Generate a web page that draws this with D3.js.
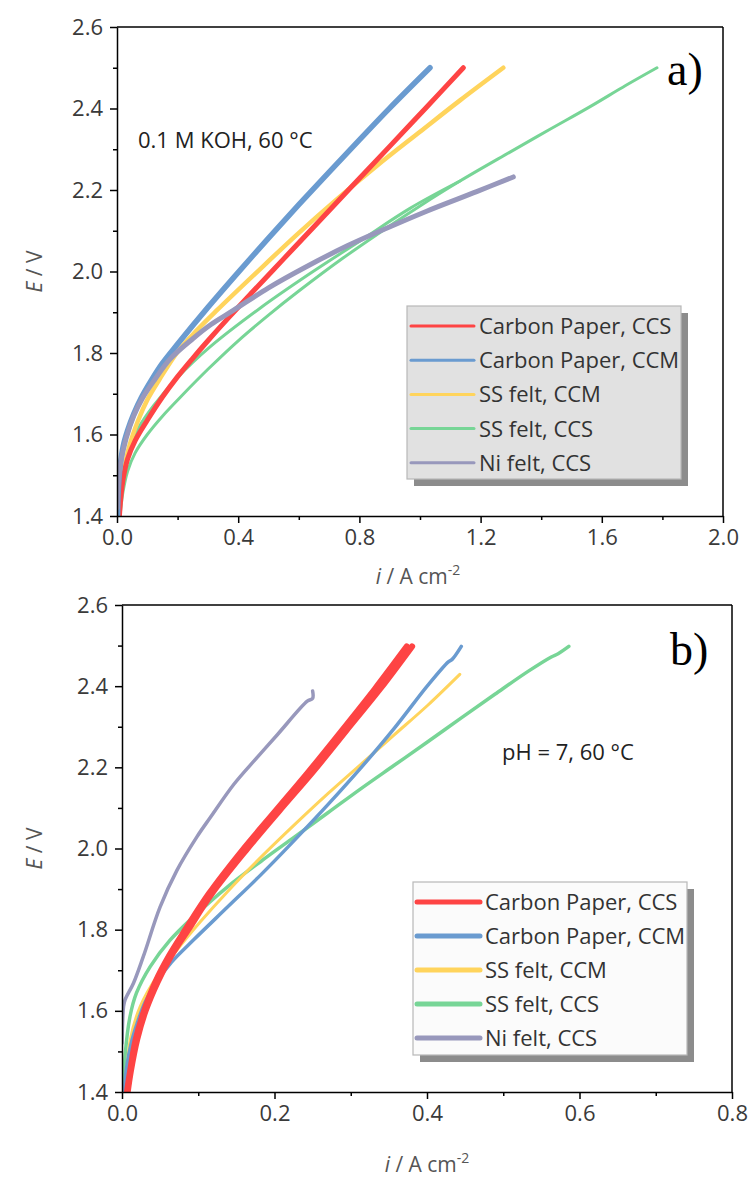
<!DOCTYPE html>
<html>
<head>
<meta charset="utf-8">
<script src="https://cdn.jsdelivr.net/npm/d3@7"></script>
<style>
  body { margin: 0; background: #fff; }
  svg { display: block; }
  text { font-family: "Open Sans", "Noto Sans", sans-serif; }
</style>
</head>
<body>
<svg id="chart" width="748" height="1180"></svg>
<script>
// ---- legend entries & colours ----
const seriesNames = ["Carbon Paper, CCS", "Carbon Paper, CCM", "SS felt, CCM", "SS felt, CCS", "Ni felt, CCS"];
const seriesColors = ["#fe4444", "#6a9bd0", "#ffd45c", "#77d596", "#9898bc"];

// ---- axis ticks ----
const yMajorTicks = [1.4, 1.6, 1.8, 2.0, 2.2, 2.4, 2.6];
const yMinorTicks = [1.5, 1.7, 1.9, 2.1, 2.3, 2.5];
const xMajorTicksA = [0.0, 0.4, 0.8, 1.2, 1.6, 2.0];
const xMinorTicksA = [0.2, 0.6, 1.0, 1.4, 1.8];
const xMajorTicksB = [0.0, 0.2, 0.4, 0.6, 0.8];
const xMinorTicksB = [0.1, 0.3, 0.5, 0.7];

// ---- panel a: 0.1 M KOH, 60 °C  (i / A cm-2, E / V) ----
const kohCarbonPaperCCS = [[0.008,1.40],[0.012,1.44],[0.02,1.49],[0.035,1.54],[0.06,1.585],[0.1,1.635],[0.15,1.692],[0.2,1.742],[0.25,1.787],[0.3,1.83],[0.37,1.888],[0.45,1.952],[0.55,2.031],[0.65,2.11],[0.77,2.205],[0.9,2.307],[1.02,2.402],[1.143,2.5]];
const kohCarbonPaperCCM = [[0.002,1.40],[0.004,1.46],[0.01,1.52],[0.02,1.57],[0.035,1.61],[0.055,1.65],[0.08,1.69],[0.115,1.735],[0.15,1.775],[0.2,1.822],[0.3,1.912],[0.4,1.998],[0.5,2.082],[0.6,2.164],[0.7,2.244],[0.8,2.323],[0.9,2.401],[1.033,2.5]];
const kohSSfeltCCM = [[0.006,1.40],[0.01,1.45],[0.02,1.5],[0.04,1.57],[0.07,1.635],[0.1,1.685],[0.14,1.735],[0.2,1.803],[0.26,1.853],[0.33,1.905],[0.461,1.998],[0.593,2.09],[0.725,2.177],[0.857,2.259],[1.0,2.343],[1.132,2.42],[1.275,2.5]];
const kohSSfeltCCSForward = [[0.01,1.40],[0.02,1.46],[0.035,1.51],[0.06,1.555],[0.1,1.6],[0.15,1.645],[0.22,1.70],[0.3,1.76],[0.4,1.83],[0.5,1.893],[0.6,1.952],[0.746,2.033],[0.912,2.118],[1.0,2.161],[1.132,2.222],[1.297,2.293],[1.429,2.349],[1.56,2.404],[1.68,2.457],[1.782,2.5]];
const kohSSfeltCCSBackward = [[1.132,2.222],[0.967,2.155],[0.802,2.075],[0.637,1.995],[0.472,1.91],[0.307,1.815],[0.2,1.74],[0.12,1.67],[0.07,1.615],[0.04,1.565],[0.02,1.5],[0.01,1.44],[0.006,1.40]];
const kohNiFeltCCS = [[0.0,1.42],[0.003,1.47],[0.012,1.53],[0.03,1.59],[0.055,1.645],[0.085,1.69],[0.125,1.735],[0.175,1.785],[0.25,1.835],[0.31,1.87],[0.385,1.905],[0.5,1.96],[0.62,2.01],[0.76,2.063],[0.88,2.103],[1.022,2.148],[1.187,2.196],[1.308,2.232]];

// ---- panel b: pH = 7, 60 °C ----
const neutralCarbonPaperCCSForward = [[0.0075,1.40],[0.0115,1.45],[0.02,1.53],[0.031,1.6],[0.0465,1.67],[0.0645,1.735],[0.087,1.8],[0.118,1.889],[0.1625,1.995],[0.2065,2.093],[0.251,2.19],[0.294,2.29],[0.3385,2.393],[0.3805,2.498]];
const neutralCarbonPaperCCSBackward = [[0.0065,1.40],[0.0105,1.45],[0.018,1.53],[0.029,1.6],[0.0435,1.67],[0.0615,1.735],[0.083,1.8],[0.114,1.889],[0.1575,1.995],[0.2015,2.093],[0.245,2.19],[0.288,2.29],[0.3315,2.393],[0.3735,2.498]];
const neutralCarbonPaperCCM = [[0.003,1.40],[0.006,1.46],[0.012,1.52],[0.02,1.57],[0.03,1.62],[0.045,1.67],[0.065,1.72],[0.094,1.775],[0.138,1.855],[0.182,1.935],[0.226,2.02],[0.27,2.108],[0.313,2.198],[0.357,2.296],[0.401,2.402],[0.428,2.46],[0.433,2.466],[0.445,2.498]];
const neutralSSfeltCCM = [[0.005,1.40],[0.011,1.53],[0.024,1.611],[0.046,1.685],[0.072,1.75],[0.103,1.82],[0.138,1.893],[0.182,1.978],[0.226,2.058],[0.27,2.135],[0.318,2.215],[0.357,2.28],[0.401,2.353],[0.443,2.429]];
const neutralSSfeltCCS = [[0.002,1.40],[0.004,1.488],[0.0105,1.586],[0.019,1.644],[0.037,1.709],[0.063,1.774],[0.094,1.832],[0.138,1.905],[0.182,1.968],[0.226,2.028],[0.27,2.088],[0.313,2.147],[0.357,2.205],[0.401,2.263],[0.445,2.322],[0.489,2.38],[0.533,2.437],[0.563,2.472],[0.572,2.48],[0.586,2.498]];
const neutralNiFeltCCS = [[0.0,1.52],[0.001,1.58],[0.002,1.61],[0.004,1.627],[0.015,1.668],[0.028,1.734],[0.05,1.856],[0.072,1.946],[0.098,2.028],[0.116,2.077],[0.147,2.159],[0.177,2.224],[0.204,2.281],[0.243,2.363],[0.25,2.37],[0.25,2.388]];

const svg = d3.select("#chart");

function drawPanel(cfg) {
  const x = d3.scaleLinear().domain(cfg.xDomain).range([cfg.left, cfg.right]);
  const y = d3.scaleLinear().domain([1.4, 2.6]).range([cfg.bottom, cfg.top]);
  const g = svg.append("g");

  const clipId = "clip-" + cfg.id;
  g.append("clipPath").attr("id", clipId)
    .append("rect")
    .attr("x", cfg.left).attr("y", cfg.top)
    .attr("width", cfg.right - cfg.left).attr("height", cfg.bottom - cfg.top);

  // polarisation curves
  const line = d3.line()
    .x(d => x(d[0])).y(d => y(d[1]))
    .curve(d3.curveCatmullRom.alpha(0.5));
  const curves = g.append("g").attr("clip-path", `url(#${clipId})`);
  cfg.curves.forEach(c => {
    curves.append("path")
      .attr("d", line(c.data))
      .attr("fill", "none")
      .attr("stroke", seriesColors[c.series])
      .attr("stroke-width", c.width)
      .attr("stroke-linecap", "round")
      .attr("stroke-linejoin", "round");
  });

  // frame (top and right edges)
  g.append("line").attr("x1", cfg.left).attr("x2", cfg.right)
    .attr("y1", cfg.top).attr("y2", cfg.top)
    .attr("stroke", "#000").attr("stroke-width", 1.5);
  g.append("line").attr("x1", cfg.right).attr("x2", cfg.right)
    .attr("y1", cfg.top).attr("y2", cfg.bottom)
    .attr("stroke", "#000").attr("stroke-width", 1.5);

  const fmt = d3.format(".1f");
  // x axis
  const xAxis = g.append("g").attr("transform", `translate(0,${cfg.bottom})`)
    .call(d3.axisBottom(x).tickValues(cfg.xMajor).tickFormat(fmt).tickSize(7).tickSizeOuter(0).tickPadding(6));
  g.append("g").attr("transform", `translate(0,${cfg.bottom})`)
    .call(d3.axisBottom(x).tickValues(cfg.xMinor).tickFormat("").tickSize(4).tickSizeOuter(0))
    .select(".domain").remove();
  // y axis
  const yAxis = g.append("g").attr("transform", `translate(${cfg.left},0)`)
    .call(d3.axisLeft(y).tickValues(yMajorTicks).tickFormat(fmt).tickSize(7).tickSizeOuter(0).tickPadding(7));
  g.append("g").attr("transform", `translate(${cfg.left},0)`)
    .call(d3.axisLeft(y).tickValues(yMinorTicks).tickFormat("").tickSize(4).tickSizeOuter(0))
    .select(".domain").remove();

  [xAxis, yAxis].forEach(a => {
    a.select(".domain").attr("stroke", "#000").attr("stroke-width", 1.5);
    a.selectAll(".tick text")
      .attr("font-size", 22).attr("fill", "#3a3a3a")
      .style("font-family", '"Open Sans", sans-serif');
  });
  g.selectAll(".tick line").attr("stroke", "#000").attr("stroke-width", 1.5);

  // axis titles
  const yTitle = g.append("text")
    .attr("transform", `translate(${cfg.yTitleX},${(cfg.top + cfg.bottom) / 2}) rotate(-90)`)
    .attr("text-anchor", "middle").attr("font-size", 21).attr("fill", "#555");
  yTitle.append("tspan").attr("font-style", "italic").text("E");
  yTitle.append("tspan").text(" / V");

  const xTitle = g.append("text")
    .attr("x", cfg.xTitleX).attr("y", cfg.xTitleY)
    .attr("text-anchor", "middle").attr("font-size", 21).attr("fill", "#555");
  xTitle.append("tspan").attr("font-style", "italic").text("i");
  xTitle.append("tspan").text(" / A cm");
  xTitle.append("tspan").attr("dy", -9).attr("font-size", 14).text("-2");

  // panel letter and condition note
  g.append("text").attr("x", cfg.letterX).attr("y", cfg.letterY)
    .attr("font-size", 46).attr("fill", "#000")
    .style("font-family", '"Liberation Serif", "Times New Roman", serif')
    .text(cfg.letter);
  g.append("text").attr("x", cfg.noteX).attr("y", cfg.noteY)
    .attr("font-size", 22).attr("fill", "#222")
    .text(cfg.note);

  // legend with drop shadow
  const L = cfg.legend;
  const lg = g.append("g");
  lg.append("rect").attr("x", L.x + 7).attr("y", L.y + 7)
    .attr("width", L.w).attr("height", L.h).attr("fill", "#8c8c8c");
  lg.append("rect").attr("x", L.x).attr("y", L.y)
    .attr("width", L.w).attr("height", L.h)
    .attr("fill", L.fill).attr("stroke", "#b8b8b8").attr("stroke-width", 1.2);
  seriesNames.forEach((name, i) => {
    const cy = L.y + L.firstRow + i * L.rowGap;
    lg.append("line")
      .attr("x1", L.x + 4).attr("x2", L.x + 67)
      .attr("y1", cy).attr("y2", cy)
      .attr("stroke", seriesColors[i]).attr("stroke-width", L.lineWidth)
      .attr("stroke-linecap", "round");
    lg.append("text")
      .attr("x", L.x + 72).attr("y", cy)
      .attr("dy", "0.36em")
      .attr("font-size", 22).attr("fill", "#333")
      .text(name);
  });
}

drawPanel({
  id: "a", left: 117, right: 723, top: 27, bottom: 516,
  xDomain: [0, 2.0], xMajor: xMajorTicksA, xMinor: xMinorTicksA,
  yTitleX: 42, xTitleX: 418, xTitleY: 584,
  letter: "a)", letterX: 667, letterY: 85,
  note: "0.1 M KOH, 60 °C", noteX: 138, noteY: 148,
  legend: { x: 407, y: 306, w: 274, h: 173, fill: "#e1e1e1", firstRow: 20, rowGap: 34.2, lineWidth: 3 },
  curves: [
    { series: 3, data: kohSSfeltCCSForward, width: 3 },
    { series: 3, data: kohSSfeltCCSBackward, width: 3 },
    { series: 2, data: kohSSfeltCCM, width: 4.5 },
    { series: 0, data: kohCarbonPaperCCS, width: 5 },
    { series: 1, data: kohCarbonPaperCCM, width: 5.5 },
    { series: 4, data: kohNiFeltCCS, width: 5 }
  ]
});

drawPanel({
  id: "b", left: 122, right: 732, top: 605, bottom: 1092,
  xDomain: [0, 0.8], xMajor: xMajorTicksB, xMinor: xMinorTicksB,
  yTitleX: 42, xTitleX: 427, xTitleY: 1172,
  letter: "b)", letterX: 670, letterY: 665,
  note: "pH = 7, 60 °C", noteX: 502, noteY: 760,
  legend: { x: 413, y: 882, w: 274, h: 173, fill: "#fbfbfb", firstRow: 20, rowGap: 34, lineWidth: 5 },
  curves: [
    { series: 3, data: neutralSSfeltCCS, width: 3.5 },
    { series: 2, data: neutralSSfeltCCM, width: 3 },
    { series: 1, data: neutralCarbonPaperCCM, width: 3.5 },
    { series: 0, data: neutralCarbonPaperCCSBackward, width: 6 },
    { series: 0, data: neutralCarbonPaperCCSForward, width: 6 },
    { series: 4, data: neutralNiFeltCCS, width: 3.5 }
  ]
});
</script>
</body>
</html>
